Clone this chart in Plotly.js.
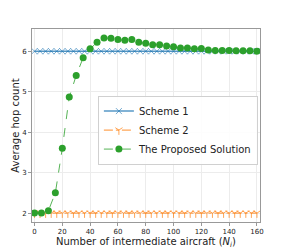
<!DOCTYPE html>
<html>
<head>
<meta charset="utf-8">
<script src="https://cdn.plot.ly/plotly-3.0.1.min.js"></script>
<style>html,body{margin:0;padding:0;background:#fff;}#chart{width:287px;height:249px;}</style>
</head>
<body>
<div id="chart"></div>
<script>
// Baseline schemes sampled every 4 aircraft
const xBase = [0,4,8,12,16,20,24,28,32,36,40,44,48,52,56,60,64,68,72,76,80,84,88,92,96,100,104,108,112,116,120,124,128,132,136,140,144,148,152,156,160];
const scheme1 = [6,6,6,6,6,6,6,6,6,6,6,6,6,6,6,6,6,6,6,6,6,6,6,6,6,6,6,6,6,6,6,6,6,6,6,6,6,6,6,6,6];
const scheme2 = [2,2,2,2,2,2,2,2,2,2,2,2,2,2,2,2,2,2,2,2,2,2,2,2,2,2,2,2,2,2,2,2,2,2,2,2,2,2,2,2,2];
// Proposed solution sampled every 5 aircraft
const xProp = [0,5,10,15,20,25,30,35,40,45,50,55,60,65,70,75,80,85,90,95,100,105,110,115,120,125,130,135,140,145,150,155,160];
const proposed = [2.0,2.0,2.06,2.5,3.6,4.87,5.40,5.84,6.06,6.22,6.33,6.32,6.29,6.27,6.29,6.22,6.20,6.16,6.16,6.13,6.11,6.08,6.08,6.06,6.07,6.03,6.02,6.02,6.02,6.01,6.01,6.01,6.0];
const xTicks = [0,20,40,60,80,100,120,140,160];
const yTicks = [2,3,4,5,6];
const seriesNames = ["Scheme 1","Scheme 2","The Proposed Solution"];

const FONT = "DejaVu Sans, Liberation Sans, sans-serif";
const traces = [
  {x: xBase, y: scheme1, name: seriesNames[0], type: "scatter", mode: "lines+markers",
   line: {color: "rgba(31,119,180,0.75)", width: 1.5},
   marker: {symbol: "x-thin-open", size: 6, color: "rgba(31,119,180,0.6)", line: {width: 1, color: "rgba(31,119,180,0.6)"}}},
  {x: xBase, y: scheme2, name: seriesNames[1], type: "scatter", mode: "lines+markers",
   line: {color: "rgba(255,127,14,0.7)", width: 1.2, dash: "dashdot"},
   marker: {symbol: "y-down-open", size: 6, color: "rgba(255,127,14,0.7)", line: {width: 1, color: "rgba(255,127,14,0.7)"}}},
  {x: xProp, y: proposed, name: seriesNames[2], type: "scatter", mode: "lines+markers",
   line: {color: "rgba(44,160,44,0.8)", width: 1, dash: "dash"},
   marker: {symbol: "circle", size: 7, color: "#2ca02c"}}
];
const layout = {
  width: 287, height: 249,
  margin: {l: 32, r: 27, t: 29, b: 27, pad: 0},
  paper_bgcolor: "#fff", plot_bgcolor: "#fff",
  font: {family: FONT, size: 7, color: "#222"},
  showlegend: true,
  legend: {x: 0.289, y: 0.655, xanchor: "left", yanchor: "top",
           bgcolor: "rgba(255,255,255,0.9)", bordercolor: "#d0d0d0", borderwidth: 1,
           font: {family: FONT, size: 10, color: "#222"}, itemwidth: 30, tracegroupgap: 0},
  xaxis: {range: [-1.8, 162.2], tickvals: xTicks, ticktext: xTicks.map(String),
          showgrid: true, gridcolor: "#ececec", gridwidth: 1, zeroline: false,
          showline: true, mirror: true, linecolor: "#999999", linewidth: 1,
          ticks: "outside", ticklen: 3, tickcolor: "#999999", tickfont: {size: 7, family: FONT},
          title: {text: "Number of intermediate aircraft (<i>N<sub>i</sub></i>)", font: {size: 10, family: FONT, color: "#222"}, standoff: 0},
          automargin: false},
  yaxis: {range: [1.78, 6.55], tickvals: yTicks, ticktext: yTicks.map(String),
          showgrid: true, gridcolor: "#ececec", gridwidth: 1, zeroline: false,
          showline: true, mirror: true, linecolor: "#999999", linewidth: 1,
          ticks: "outside", ticklen: 3, tickcolor: "#999999", tickfont: {size: 7, family: FONT},
          title: {text: "Average hop count", font: {size: 10, family: FONT, color: "#222"}, standoff: 0},
          automargin: false}
};
Plotly.newPlot("chart", traces, layout, {displayModeBar: false, staticPlot: true});
</script>
</body>
</html>
